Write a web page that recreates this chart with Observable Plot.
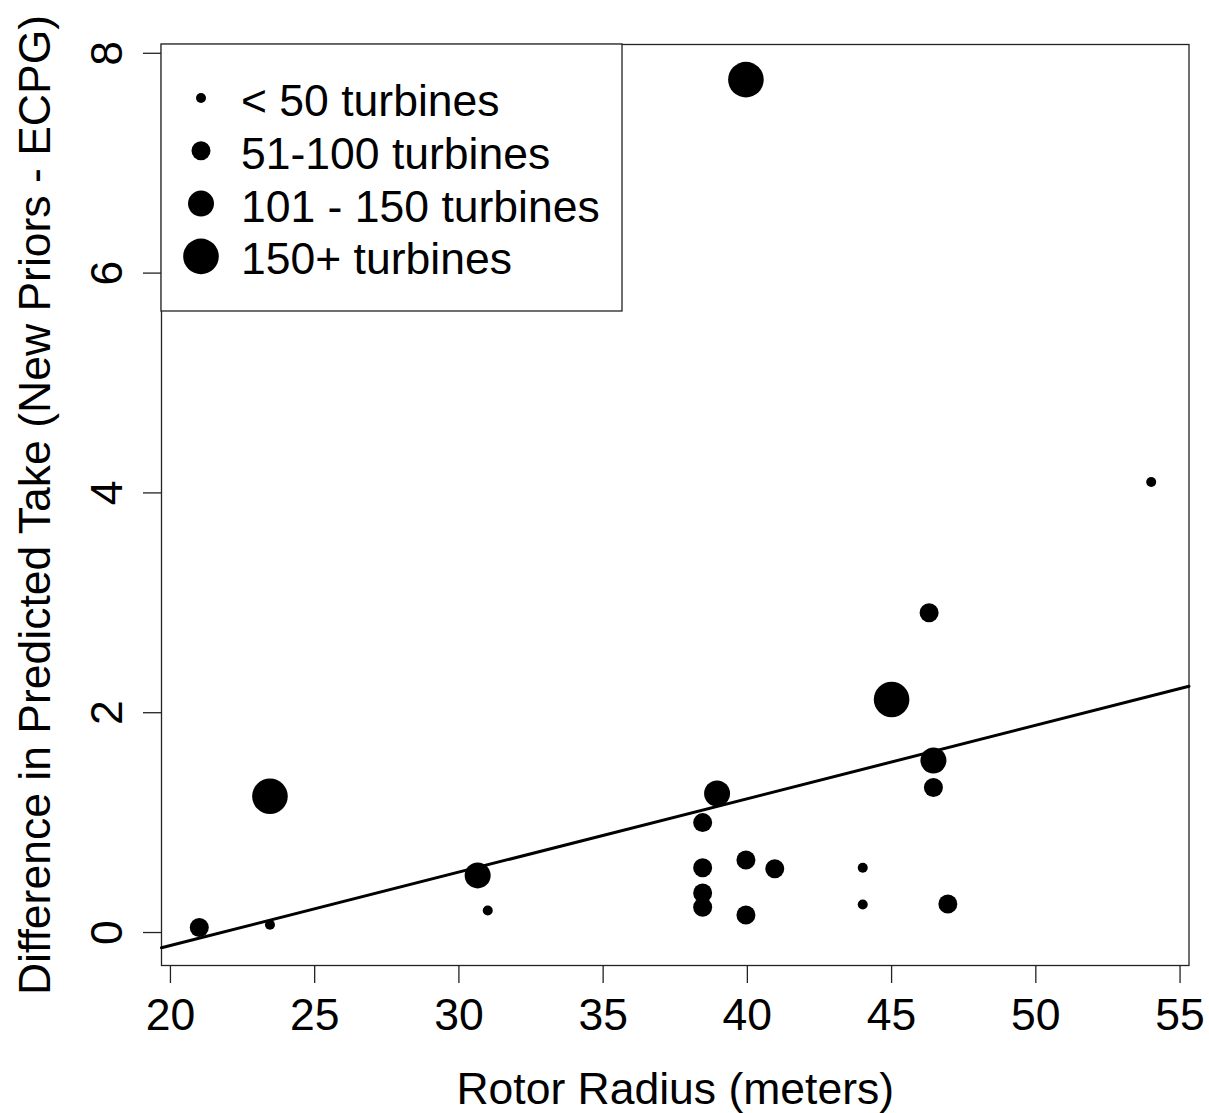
<!DOCTYPE html>
<html><head><meta charset="utf-8">
<script src="https://cdn.jsdelivr.net/npm/d3@7"></script>
<script src="https://cdn.jsdelivr.net/npm/@observablehq/plot@0.6"></script>
<style>
body{margin:0;background:#fff;}
#chart{width:1209px;height:1113px;}
</style></head><body><div id="chart"></div>
<script>
// Data
const rotorRadius    = [21, 23.45, 23.45, 30.65, 31, 38.45, 38.45, 38.45, 38.45, 38.95, 39.95, 39.95, 39.95, 40.95, 44, 44, 45, 46.3, 46.45, 46.45, 46.95, 54];
const takeDifference = [0.045, 0.07, 1.24, 0.52, 0.20, 1.0, 0.59, 0.36, 0.23, 1.265, 7.76, 0.66, 0.16, 0.58, 0.59, 0.255, 2.12, 2.91, 1.565, 1.32, 0.26, 4.10];
const turbineClass   = [1, 0, 3, 2, 0, 1, 1, 1, 1, 2, 3, 1, 1, 1, 0, 0, 3, 1, 2, 1, 1, 0];
const sizeClasses = ["< 50 turbines", "51-100 turbines", "101 - 150 turbines", "150+ turbines"];
const classRadius = [5, 9.5, 13, 17.8];
const xTicks = [20, 25, 30, 35, 40, 45, 50, 55];
const yTicks = [0, 2, 4, 6, 8];
const fitIntercept = -1.454;
const fitSlope = 0.0668;
const xDomain = [19.69, 55.31];
const yDomain = [-0.30, 8.08];
const xLabel = "Rotor Radius (meters)";
const yLabel = "Difference in Predicted Take (New Priors - ECPG)";

const points = rotorRadius.map((x, i) => ({x, y: takeDifference[i], cls: turbineClass[i]}));
const fitLine = xDomain.map(x => ({x, y: fitIntercept + fitSlope * x}));

const FS = 44.5;
const FONT = "'Liberation Sans', Arial, sans-serif";
const M = {left: 161, right: 20.5, top: 44, bottom: 148};

const svg = Plot.plot({
  width: 1209, height: 1113,
  marginLeft: M.left, marginRight: M.right, marginTop: M.top, marginBottom: M.bottom,
  style: {fontFamily: FONT, fontSize: FS + "px", color: "black", background: "white"},
  x: {domain: xDomain},
  y: {domain: yDomain},
  r: {type: "identity"},
  marks: [
    Plot.frame({stroke: "#222", strokeWidth: 1.3}),
    Plot.axisX({ticks: xTicks, tickSize: 18, tickPadding: 15, fontSize: FS, label: null, strokeWidth: 1.3, stroke: "#222"}),
    Plot.axisY({ticks: yTicks, tickSize: 18, tickRotate: -90, tickPadding: 22, fontSize: FS, label: null, strokeWidth: 1.3, stroke: "#222"}),
    Plot.line(fitLine, {x: "x", y: "y", stroke: "black", strokeWidth: 3}),
    Plot.dot(points, {x: "x", y: "y", r: d => classRadius[d.cls], fill: "black"}),
    Plot.text([xLabel], {text: d => d, frameAnchor: "bottom", dy: 138, lineAnchor: "bottom", textAnchor: "middle", fontSize: FS, fill: "black"}),
    Plot.text([yLabel], {text: d => d, frameAnchor: "left", rotate: -90, dx: -112, lineAnchor: "bottom", textAnchor: "middle", fontSize: FS, fill: "black"})
  ]
});

// Legend box in the top-left corner of the plotting frame
const lg = d3.select(svg).append("g").attr("transform", `translate(${M.left},${M.top})`);
lg.append("rect").attr("x", 0).attr("y", 0).attr("width", 461).attr("height", 267)
  .attr("fill", "white").attr("stroke", "#222").attr("stroke-width", 1.3);
sizeClasses.forEach((label, i) => {
  const cy = 54 + i * 52.8;
  lg.append("circle").attr("cx", 40).attr("cy", cy).attr("r", classRadius[i]).attr("fill", "black");
  lg.append("text").attr("x", 80).attr("y", cy + 18).attr("font-size", FS)
    .attr("text-anchor", "start")
    .attr("font-family", FONT).attr("fill", "black").text(label);
});

document.getElementById("chart").appendChild(svg);
</script>
</body></html>
